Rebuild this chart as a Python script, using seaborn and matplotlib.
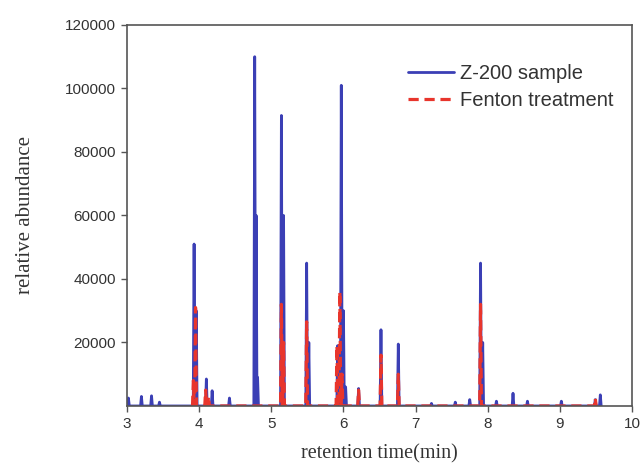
import numpy as np
import pandas as pd
import seaborn as sns
import matplotlib.pyplot as plt
from matplotlib.ticker import MultipleLocator

# Peak retention times (min) and heights
z200_times = [3.02, 3.20, 3.34, 3.45, 3.93, 3.96, 4.10, 4.18, 4.42, 4.77, 4.79, 4.81,
              5.14, 5.17, 5.49, 5.52, 5.92, 5.97, 6.00, 6.03, 6.21, 6.52, 6.76,
              7.22, 7.55, 7.75, 7.90, 7.93, 8.12, 8.35, 8.55, 9.02, 9.49, 9.56]
z200_heights = [2500, 3000, 3200, 1200, 51000, 30000, 8500, 4800, 2500, 110000, 60000, 9000,
                91500, 60000, 45000, 20000, 19000, 101000, 30000, 6000, 5500, 24000, 19500,
                800, 1200, 2000, 45000, 20000, 1500, 4000, 1500, 1500, 2000, 3500]

fenton_times = [3.92, 3.95, 4.09, 4.13, 5.14, 5.17, 5.49, 5.91, 5.95, 5.98, 6.21, 6.52,
                6.76, 7.90, 9.49]
fenton_heights = [8000, 31000, 5000, 3000, 32000, 20000, 26500, 19000, 36000, 10000, 5000, 16000,
                  10000, 32000, 2500]

x_ticks = [3, 4, 5, 6, 7, 8, 9, 10]
y_ticks = [20000, 40000, 60000, 80000, 100000, 120000]


def trace(times, heights, w=0.012):
    xs, ys = [], []
    for t, h in zip(times, heights):
        xs += [t - w, t, t + w]
        ys += [0, h, 0]
    return xs, ys


zx, zy = trace(z200_times, z200_heights)
fx, fy = trace(fenton_times, fenton_heights)
dz = pd.DataFrame({"t": zx, "a": zy})
df = pd.DataFrame({"t": fx, "a": fy})

sns.set_style("white")
fig = plt.figure(figsize=(6.43, 4.66), dpi=100)
ax = fig.add_axes([0.1975, 0.1288, 0.7855, 0.8176])

sns.lineplot(data=dz, x="t", y="a", ax=ax, color="#3b3fb5", lw=2.0,
             estimator=None, sort=False, label="Z-200 sample")
sns.lineplot(data=df, x="t", y="a", ax=ax, color="#e8352c", lw=2.3,
             estimator=None, sort=False, label="Fenton treatment",
             linestyle=(0, (3.2, 1.8)))

ax.set_xlim(3, 10)
ax.set_ylim(0, 120000)
ax.set_xticks(x_ticks)
ax.set_yticks(y_ticks)
ax.xaxis.set_minor_locator(MultipleLocator(0.5))
ax.yaxis.set_minor_locator(MultipleLocator(10000))
ax.tick_params(axis="both", which="major", direction="out", length=4, width=1,
               colors="#555555", labelcolor="#333333", labelsize=11, pad=4)
ax.tick_params(axis="both", which="minor", direction="out", length=2.5, width=1,
               colors="#555555")
ax.tick_params(top=False, right=False, bottom=True, left=True)
for lab in ax.get_xticklabels() + ax.get_yticklabels():
    lab.set_fontfamily("Liberation Sans")
for s in ax.spines.values():
    s.set_color("#555555")
    s.set_linewidth(1.2)

ax.set_xlabel("retention time(min)", fontfamily="Liberation Serif", fontsize=14.5,
              color="#333333")
ax.set_ylabel("relative abundance", fontfamily="Liberation Serif", fontsize=15,
              color="#333333")
ax.xaxis.set_label_coords(0.5, -0.1)
ax.yaxis.set_label_coords(-0.182, 0.5)

leg = ax.legend(loc="upper right", bbox_to_anchor=(1.0, 0.945), frameon=False,
                prop={"family": "Liberation Sans", "size": 14.5},
                handlelength=2.3, handletextpad=0.3, labelspacing=0.4)
for t in leg.get_texts():
    t.set_color("#333333")

fig.savefig("out.png", dpi=100)
